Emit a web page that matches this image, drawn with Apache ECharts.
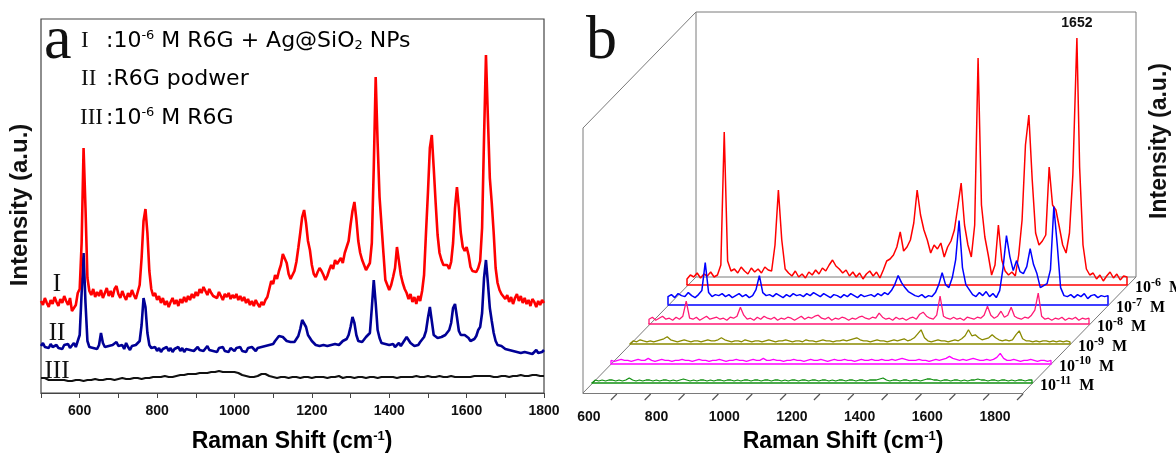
<!DOCTYPE html>
<html>
<head>
<meta charset="utf-8">
<script src="https://cdn.jsdelivr.net/npm/echarts@6/dist/echarts.min.js"></script>
<style>
  html, body { margin: 0; padding: 0; background: #ffffff; }
  #chart { width: 1176px; height: 456px; }
</style>
</head>
<body>
<div id="chart"></div>
<script>
// Raman shift sampling of the spectra (cm^-1)
const shiftStartA = 500, shiftStepA = 5;    // panel a
const shiftStartB = 500, shiftStepB = 10;   // panel b

// Panel a: I = 10^-6 M R6G + Ag@SiO2 NPs, II = R6G powder, III = 10^-6 M R6G (offset stacked, a.u.)
const spectrumI = [
  92, 88, 95, 90, 86, 93, 89, 96, 91, 87,
  94, 90, 97, 92, 88, 95, 82, 80, 88, 100,
  104, 150, 245, 185, 115, 102, 98, 104, 96, 101,
  97, 103, 95, 100, 105, 97, 102, 96, 104, 107,
  99, 95, 102, 97, 93, 100, 96, 103, 98, 94,
  101, 108, 135, 172, 184, 160, 122, 104, 97, 100,
  93, 97, 90, 95, 88, 92, 86, 91, 95, 89,
  93, 87, 94, 90, 96, 91, 97, 93, 99, 95,
  101, 97, 104, 100, 106, 102, 98, 104, 100, 97,
  99, 95, 101, 97, 93, 99, 96, 100, 94, 98,
  95, 99, 93, 97, 92, 96, 90, 94, 88, 92,
  87, 93, 89, 86, 91, 88, 93, 96, 104, 112,
  109, 118, 114, 122, 128, 139, 141, 130, 119, 114,
  116, 122, 131, 145, 160, 176, 183, 170, 152, 143,
  128, 119, 116, 121, 125, 122, 118, 113, 117, 123,
  128, 124, 133, 129, 131, 135, 130, 140, 146, 152,
  168, 182, 191, 174, 152, 140, 133, 128, 123, 125,
  130, 150, 225, 316, 250, 196, 168, 140, 113, 108,
  103, 108, 116, 125, 146, 132, 118, 110, 104, 100,
  94, 99, 91, 96, 89, 97, 92, 102, 118, 160,
  200, 245, 258, 225, 190, 158, 140, 133, 128, 126,
  128, 124, 131, 150, 185, 206, 185, 160, 146, 142,
  146, 138, 126, 122, 124, 121, 125, 132, 165, 255,
  338, 275, 215, 190, 160, 125, 110, 103, 99, 101,
  94, 98, 91, 96, 89, 95, 99, 92, 97, 90,
  95, 89, 93, 87, 94, 91, 86, 92, 88, 93,
  90
];
const spectrumII = [
  47, 50, 46, 48, 45, 49, 46, 44, 48, 45,
  47, 44, 48, 46, 49, 45, 47, 50, 46, 48,
  58, 100, 140, 90, 52, 46, 48, 45, 47, 44,
  48, 60, 50, 46, 44, 47, 45, 48, 46, 51,
  47, 45, 48, 44, 50, 46, 43, 47, 45, 48,
  46, 52, 68, 95, 86, 60, 48, 45, 43, 46,
  42, 45, 41, 44, 43, 46, 42, 45, 41, 44,
  43, 46, 42, 45, 41, 44, 46, 43, 45, 42,
  44, 46, 43, 45, 42, 44, 47, 43, 45, 42,
  44, 41, 45, 43, 46, 42, 44, 41, 45, 43,
  42, 45, 43, 46, 42, 44, 41, 45, 43, 46,
  44, 42, 45, 43, 46, 44, 47, 45, 48, 50,
  49, 52, 54, 57, 58, 56, 54, 52, 50, 51,
  49, 51, 53, 57, 64, 73, 75, 66, 58, 55,
  52, 50, 48, 50, 47, 49, 48, 50, 47, 49,
  48, 50, 49, 51, 48, 50, 52, 51, 54, 58,
  66, 76, 70, 58, 52, 50, 51, 53, 56, 55,
  60, 85, 113, 90, 63, 55, 50, 48, 49, 47,
  48, 47, 49, 46, 48, 50, 47, 49, 53, 56,
  54, 50, 48, 47, 49, 48, 51, 53, 56, 62,
  75, 86, 72, 58, 56, 55, 54, 56, 55, 58,
  60, 63, 70, 85, 89, 76, 62, 58, 57, 58,
  58, 55, 52, 51, 54, 57, 63, 66, 80, 115,
  133, 110, 85, 72, 60, 52, 48, 46, 47, 45,
  44, 46, 43, 45, 42, 44, 41, 43, 40, 42,
  41, 43, 40, 42, 39, 41, 43, 40, 42, 41,
  43
];
const spectrumIII = [
  15, 14, 15, 14, 13, 14, 13, 14, 13, 13,
  13, 12, 13, 13, 12, 13, 12, 13, 13, 12,
  13, 13, 12, 13, 13, 14, 13, 13, 14, 13,
  13, 14, 13, 14, 14, 13, 14, 14, 13, 14,
  14, 14, 15, 14, 14, 15, 14, 15, 15, 14,
  15, 15, 14, 15, 15, 16, 15, 15, 16, 15,
  16, 15, 16, 16, 17, 16, 16, 17, 16, 17,
  17, 17, 18, 17, 18, 18, 19, 18, 19, 19,
  19, 20, 20, 19, 20, 21, 20, 21, 21, 20,
  21, 21, 22, 21, 21, 22, 21, 22, 21, 21,
  21, 20, 20, 19, 18, 18, 17, 17, 16, 16,
  16, 17, 17, 18, 19, 20, 19, 18, 17, 16,
  16, 16, 15, 16, 16, 15, 16, 16, 15, 16,
  16, 15, 16, 16, 15, 16, 16, 15, 16, 16,
  15, 16, 16, 15, 16, 15, 16, 16, 15, 16,
  16, 15, 16, 16, 17, 16, 15, 16, 16, 15,
  16, 16, 15, 16, 16, 17, 16, 16, 15, 16,
  16, 15, 16, 16, 15, 16, 16, 15, 16, 16,
  16, 17, 16, 16, 15, 16, 16, 17, 16, 16,
  16, 15, 16, 16, 17, 16, 16, 15, 16, 16,
  17, 16, 16, 15, 16, 16, 17, 16, 16, 15,
  16, 16, 17, 16, 16, 17, 16, 16, 16, 17,
  16, 17, 16, 16, 17, 16, 17, 16, 17, 16,
  17, 16, 17, 17, 16, 17, 16, 17, 17, 16,
  17, 17, 16, 17, 17, 16, 17, 17, 18, 17,
  17, 18, 17, 17, 18, 17, 18, 17, 17, 18,
  17
];

// Panel b: R6G on Ag@SiO2 at decreasing concentration (height above each baseline, a.u.)
const conc6 = [
  6, 10, 8, 12, 7, 11, 9, 13, 8, 10,
  20, 153, 24, 14, 16, 12, 18, 14, 11, 17,
  13, 16, 12, 18, 15, 14, 40, 95, 45, 16,
  12, 9, 14, 8, 11, 7, 13, 10, 15, 11,
  17, 14, 20, 25, 19, 16, 12, 15, 9, 13,
  8, 12, 6, 11, 14, 9, 13, 7, 15, 24,
  26, 30, 38, 53, 34, 38, 45, 62, 95, 70,
  55, 45, 32, 40, 36, 42, 28, 38, 44, 55,
  78, 102, 60, 40, 28, 60, 227, 80, 48, 30,
  10, 20, 60, 25, 14, 10, 13, 9, 30, 65,
  140, 170, 105, 52, 40, 44, 50, 118, 80, 75,
  58, 40, 32, 52, 110, 225, 118, 40, 16, 10,
  12, 6, 10, 4, 9, 13, 7, 11, 5, 9,
  8
];
const conc7 = [
  8, 10, 7, 11, 9, 8, 12, 9, 7, 10,
  14, 42, 12, 8, 10, 9, 11, 8, 10, 7,
  9, 11, 8, 10, 7, 9, 15, 29, 12, 9,
  10, 8, 11, 9, 7, 10, 8, 11, 9, 10,
  8, 11, 9, 12, 10, 8, 11, 9, 7, 10,
  9, 7, 10, 8, 11, 9, 7, 10, 8, 9,
  10, 8, 11, 9, 12, 10, 14, 20, 29, 22,
  17, 13, 11, 9, 8, 10, 7, 9, 8, 12,
  20, 32, 20, 17, 27, 45, 84, 37, 20, 15,
  10, 8, 12, 9, 13, 8, 11, 7, 14, 37,
  69, 48, 34, 44, 33, 31, 38, 56, 40, 31,
  17, 19, 21, 35, 98, 60, 17, 9, 8, 10,
  7, 10, 8, 11, 6, 9, 10, 7, 9, 8,
  9
];
const conc8 = [
  5, 7, 4, 6, 8, 5, 6, 4, 7, 5,
  8, 23, 6, 5, 7, 4, 6, 8, 5, 6,
  7, 5, 6, 4, 7, 6, 8, 17, 9, 5,
  6, 4, 7, 5, 8, 6, 5, 7, 4, 6,
  5, 7, 6, 4, 6, 8, 5, 7, 6, 8,
  9, 6, 5, 7, 4, 6, 5, 7, 6, 4,
  6, 5, 7, 8, 6, 5, 7, 6, 11, 7,
  5, 6, 4, 7, 5, 6, 4, 6, 7, 5,
  10, 12, 8, 6, 5, 9, 28, 8, 6, 5,
  7, 5, 6, 4, 7, 6, 5, 7, 6, 9,
  18, 9, 6, 8, 13, 7, 9, 17, 8, 6,
  5, 7, 6, 9, 14, 31, 8, 5, 6, 4,
  6, 5, 7, 4, 6, 5, 7, 4, 6, 5,
  6
];
const conc9 = [
  2, 3, 2, 4, 3, 2, 3, 2, 3, 4,
  5, 7, 4, 3, 2, 3, 4, 3, 2, 3,
  3, 2, 3, 4, 3, 3, 4, 6, 4, 3,
  2, 3, 3, 2, 4, 3, 2, 3, 3, 2,
  3, 4, 3, 2, 3, 3, 4, 3, 2, 3,
  3, 2, 4, 3, 3, 2, 3, 4, 3, 3,
  2, 3, 3, 4, 3, 4, 5, 6, 4, 3,
  3, 2, 3, 4, 3, 3, 2, 3, 4, 3,
  4, 5, 3, 4, 6, 10, 14, 6, 3, 2,
  3, 4, 3, 3, 2, 3, 4, 3, 5, 8,
  14, 8, 9, 6, 4, 5, 6, 9, 6, 4,
  3, 4, 3, 4, 9, 13, 5, 3, 3, 2,
  3, 2, 3, 3, 2, 3, 2, 3, 2, 3,
  2
];
const conc10 = [
  3, 2, 3, 4, 3, 3, 2, 3, 4, 3,
  3, 5, 3, 2, 3, 4, 3, 3, 2, 3,
  3, 4, 3, 3, 2, 3, 4, 3, 3, 2,
  3, 3, 4, 3, 2, 3, 3, 4, 3, 3,
  2, 3, 4, 3, 3, 5, 3, 3, 4, 3,
  3, 2, 3, 3, 4, 3, 3, 2, 3, 4,
  3, 3, 4, 3, 2, 3, 4, 3, 3, 4,
  3, 3, 2, 3, 4, 3, 3, 4, 3, 3,
  4, 3, 3, 4, 3, 4, 5, 4, 3, 3,
  3, 4, 3, 3, 2, 3, 4, 3, 4, 5,
  7, 5, 4, 3, 4, 3, 4, 5, 4, 3,
  3, 4, 3, 4, 6, 10, 5, 3, 3, 4,
  3, 2, 3, 3, 4, 3, 2, 3, 3, 2,
  3
];
const conc11 = [
  2, 3, 2, 3, 2, 3, 3, 2, 3, 2,
  3, 5, 3, 2, 3, 2, 3, 3, 2, 3,
  2, 3, 3, 2, 3, 2, 3, 4, 3, 2,
  3, 2, 3, 3, 2, 3, 2, 3, 3, 2,
  3, 3, 2, 3, 2, 3, 3, 2, 3, 3,
  2, 3, 3, 2, 3, 3, 2, 3, 2, 3,
  3, 2, 3, 3, 2, 3, 3, 2, 3, 3,
  2, 3, 2, 3, 3, 2, 3, 3, 2, 3,
  3, 2, 3, 3, 3, 4, 5, 3, 2, 3,
  3, 2, 3, 3, 2, 3, 3, 2, 3, 4,
  4, 3, 3, 2, 3, 3, 2, 3, 3, 2,
  3, 2, 3, 3, 4, 3, 3, 2, 3, 3,
  2, 3, 3, 2, 3, 2, 3, 3, 2, 3,
  3
];
const concSpectra = [conc6, conc7, conc8, conc9, conc10, conc11];
const concExponents = ['-6', '-7', '-8', '-9', '-10', '-11'];
const peak1652 = [1652, 247];          // labelled band of the 10^-6 M spectrum
const tickShiftB = [600, 700, 800, 900, 1000, 1100, 1200, 1300, 1400, 1500, 1600, 1700, 1800];

// ---------- layout & style ----------
const SANS = '"Liberation Sans", Arial, sans-serif';
const SERIF = '"Liberation Serif", "Times New Roman", serif';
const VERD = '"DejaVu Sans", Verdana, sans-serif';
const colorsA = ['#ff0000', '#000096', '#111111'];
const layerColors = ['#ff0000', '#0000ff', '#ff1a75', '#8a8a00', '#ff00ff', '#129012'];

const plotA = { left: 41, top: 19, width: 503, height: 374 };
// waterfall box of panel b
const box = { backL: 696, backR: 1136, top: 12, backB: 277, dx: -113, dy: 116 };
const frontL = box.backL + box.dx, frontR = box.backR + box.dx, frontB = box.backB + box.dy;
const layer = { left0: 687, stepX: -19, base0: 285, stepY: 19.6, width: 440, height: 260 };

function toPairs(start, step, values) {
  return values.map((v, i) => [start + i * step, v]);
}

const grids = [{ left: plotA.left, top: plotA.top, width: plotA.width, height: plotA.height,
  show: true, borderColor: '#444', borderWidth: 1.2, backgroundColor: 'transparent' }];
const xAxes = [{
  gridIndex: 0, type: 'value', min: 500, max: 1800, interval: 100,
  axisLine: { lineStyle: { color: '#444', width: 1.2 } },
  axisTick: { inside: false, length: 5, lineStyle: { color: '#444' } },
  axisLabel: { formatter: v => (v % 200 === 0 ? String(v) : ''), margin: 11,
    fontFamily: SANS, fontWeight: 'bold', fontSize: 14, color: '#111' },
  splitLine: { show: false }
}];
const yAxes = [{ gridIndex: 0, type: 'value', min: 0, max: plotA.height, show: false }];
const series = [];

[spectrumI, spectrumII, spectrumIII].forEach((vals, i) => {
  series.push({
    type: 'line', xAxisIndex: 0, yAxisIndex: 0, showSymbol: false, silent: true,
    data: toPairs(shiftStartA, shiftStepA, vals),
    lineStyle: { color: colorsA[i], width: i === 2 ? 2.2 : 2.6 },
    itemStyle: { color: colorsA[i] }, z: 3 - i
  });
});

concSpectra.forEach((vals, k) => {
  const gi = grids.length;
  const base = layer.base0 + layer.stepY * k;
  grids.push({ left: layer.left0 + layer.stepX * k, width: layer.width,
    top: base - layer.height, height: layer.height });
  xAxes.push({ gridIndex: gi, type: 'value', min: 500, max: 1800,
    axisLine: { show: true, lineStyle: { color: layerColors[k], width: 1.6 } },
    axisTick: { show: false }, axisLabel: { show: false }, splitLine: { show: false } });
  yAxes.push({ gridIndex: gi, type: 'value', min: 0, max: layer.height, show: false });

  const pts = toPairs(shiftStartB, shiftStepB, vals);
  let data = pts.slice();
  const s = {
    type: 'line', xAxisIndex: gi, yAxisIndex: gi, showSymbol: false, silent: true,
    lineStyle: { color: layerColors[k], width: k < 2 ? 1.5 : 1.3 }, itemStyle: { color: layerColors[k] },
    z: 3 + k,
    endLabel: {
      show: true, distance: 8, offset: [0, 3],
      formatter: () => `{n|10}{s|${concExponents[k]}}{n|  M}`,
      rich: {
        n: { fontFamily: SERIF, fontWeight: 'bold', fontSize: 16, color: '#000' },
        s: { fontFamily: SERIF, fontWeight: 'bold', fontSize: 12, color: '#000', padding: [0, 0, 10, 0] }
      }
    }
  };
  if (k === 0) {
    const at = data.findIndex(p => p[0] > peak1652[0]);
    data.splice(at, 0, peak1652.slice());
    s.markPoint = {
      silent: true, symbol: 'circle', symbolSize: 2,
      itemStyle: { color: 'rgba(0,0,0,0)' },
      label: { show: true, position: 'top', distance: 7,
        formatter: p => String(p.data.coord[0]),
        fontFamily: SANS, fontWeight: 'bold', fontSize: 14, color: '#111' },
      data: [{ coord: peak1652 }]
    };
  }
  // close the outline down to the layer baseline at both ends
  s.data = [[pts[0][0], 0]].concat(data, [[pts[pts.length - 1][0], 0]]);
  series.push(s);
});

// front (Raman shift) axis of the waterfall
const gFront = grids.length;
grids.push({ left: frontL, width: frontR - frontL, top: frontB - 10, height: 10 });
xAxes.push({ gridIndex: gFront, type: 'value', min: 500, max: 1800,
  axisLine: { show: true, lineStyle: { color: '#7a7a7a', width: 1 } },
  axisTick: { show: false }, axisLabel: { show: false }, splitLine: { show: false } });
yAxes.push({ gridIndex: gFront, type: 'value', min: 0, max: 1, show: false });
series.push({
  type: 'custom', xAxisIndex: gFront, yAxisIndex: gFront, silent: true, z: 2,
  data: tickShiftB.map(v => [v, 0]),
  renderItem: (params, api) => {
    const v = api.value(0);
    const p = api.coord([v, 0]);
    const children = [{ type: 'line',
      shape: { x1: p[0], y1: p[1] + 1, x2: p[0] - 6, y2: p[1] + 7 },
      style: { stroke: '#555', lineWidth: 1.2 } }];
    if (v % 200 === 0) {
      children.push({ type: 'text', x: p[0] - 28, y: p[1] + 24,
        style: { text: String(v), align: 'center', verticalAlign: 'middle',
          font: 'bold 14px ' + SANS, fill: '#111' } });
    }
    return { type: 'group', children };
  }
});

// frame of the waterfall box
const frameSegs = [
  [box.backL, box.top, box.backR, box.top],
  [box.backR, box.top, box.backR, box.backB],
  [box.backL, box.top, box.backL, box.backB],
  [box.backL, box.backB, box.backR, box.backB],
  [box.backL, box.top, frontL, box.top + box.dy],
  [frontL, box.top + box.dy, frontL, frontB],
  [box.backL, box.backB, frontL, frontB],
  [box.backR, box.backB, frontR, frontB]
];
const graphics = frameSegs.map(s => ({ type: 'line', z: 0,
  shape: { x1: s[0], y1: s[1], x2: s[2], y2: s[3] },
  style: { stroke: '#7a7a7a', lineWidth: 1 } }));

const titleRich = {
  t: { fontFamily: SANS, fontWeight: 'bold', fontSize: 23, color: '#111' },
  s: { fontFamily: SANS, fontWeight: 'bold', fontSize: 13, color: '#111', padding: [0, 0, 12, 0] }
};
const legendRich = {
  t: { fontFamily: VERD, fontSize: 22, color: '#111' },
  s: { fontFamily: VERD, fontSize: 13, color: '#111', padding: [0, 0, 11, 0] },
  d: { fontFamily: VERD, fontSize: 13, color: '#111', padding: [10, 0, 0, 0] }
};
function txt(x, y, text, font, align) {
  return { type: 'text', x, y, z: 10,
    style: { text, font, fill: '#111', align: align || 'left', verticalAlign: 'middle' } };
}
graphics.push(
  txt(44, 42, 'a', '62px ' + SERIF),
  txt(586, 42, 'b', '62px ' + SERIF),
  txt(81, 41, 'I', '23px ' + SERIF),
  txt(81, 79, 'II', '23px ' + SERIF),
  txt(80, 118, 'III', '23px ' + SERIF),
  { type: 'text', x: 106, y: 41, z: 10, style: { text: '{t|:10}{s|-6}{t| M R6G + Ag@SiO}{d|2}{t| NPs}', rich: legendRich, align: 'left', verticalAlign: 'middle' } },
  { type: 'text', x: 106, y: 79, z: 10, style: { text: '{t|:R6G podwer}', rich: legendRich, align: 'left', verticalAlign: 'middle' } },
  { type: 'text', x: 106, y: 118, z: 10, style: { text: '{t|:10}{s|-6}{t| M R6G}', rich: legendRich, align: 'left', verticalAlign: 'middle' } },
  txt(57, 284, 'I', '25px ' + SERIF, 'center'),
  txt(57, 333, 'II', '25px ' + SERIF, 'center'),
  txt(57, 371, 'III', '25px ' + SERIF, 'center'),
  { type: 'text', x: 292, y: 442, z: 10, style: { text: '{t|Raman Shift (cm}{s|-1}{t|)}', rich: titleRich, align: 'center', verticalAlign: 'middle' } },
  { type: 'text', x: 843, y: 442, z: 10, style: { text: '{t|Raman Shift (cm}{s|-1}{t|)}', rich: titleRich, align: 'center', verticalAlign: 'middle' } },
  { type: 'text', x: 20, y: 205, rotation: Math.PI / 2, z: 10, style: { text: 'Intensity (a.u.)', font: 'bold 24px ' + SANS, fill: '#111', align: 'center', verticalAlign: 'middle' } },
  { type: 'text', x: 1160, y: 141, rotation: Math.PI / 2, z: 10, style: { text: 'Intensity (a.u.)', font: 'bold 23px ' + SANS, fill: '#111', align: 'center', verticalAlign: 'middle' } }
);

const chart = echarts.init(document.getElementById('chart'), null, { renderer: 'canvas' });
chart.setOption({
  animation: false,
  backgroundColor: '#ffffff',
  grid: grids,
  xAxis: xAxes,
  yAxis: yAxes,
  series,
  graphic: { elements: graphics }
});
</script>
</body>
</html>
